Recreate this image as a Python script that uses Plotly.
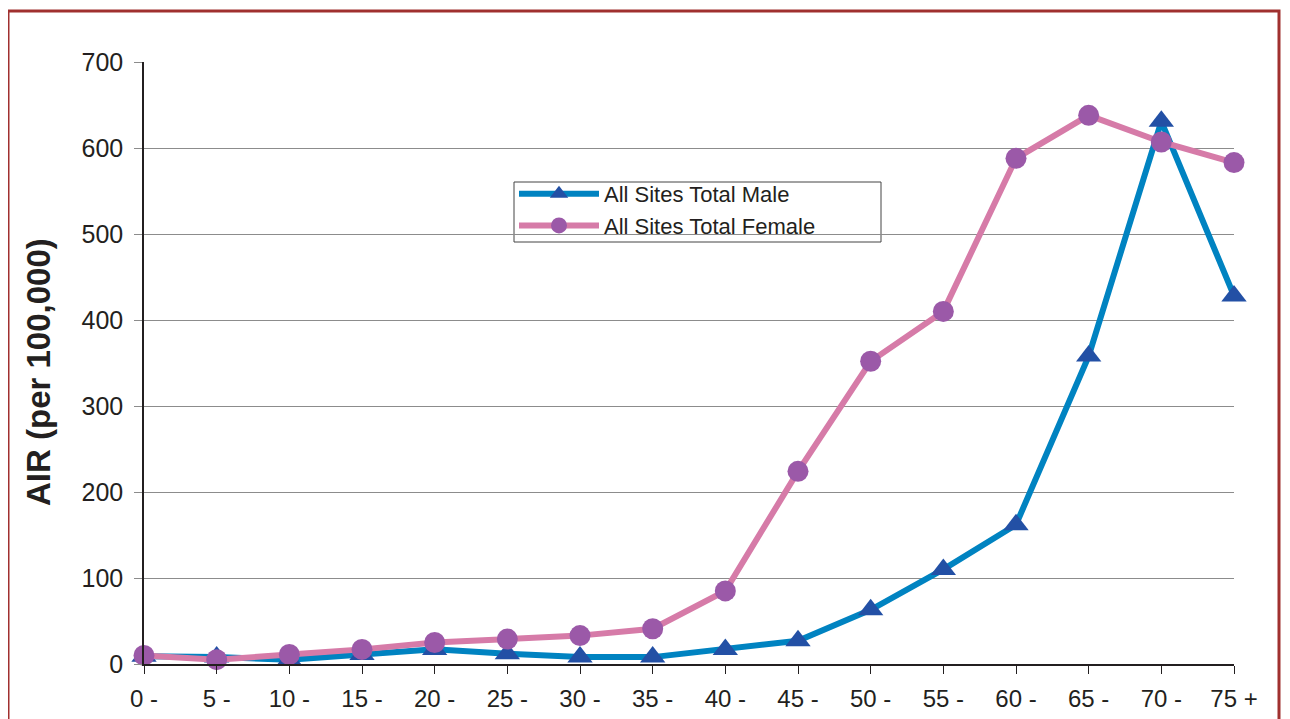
import plotly.graph_objects as go

categories = ["0 -", "5 -", "10 -", "15 -", "20 -", "25 -", "30 -", "35 -",
              "40 -", "45 -", "50 -", "55 -", "60 -", "65 -", "70 -", "75 +"]
male = [9, 8, 5, 11, 17, 12, 8, 8, 17, 27, 63, 110, 162, 358, 631, 428]
female = [10, 5, 11, 17, 25, 29, 33, 41, 85, 224, 352, 410, 588, 638, 607, 583]
y_ticks = [0, 100, 200, 300, 400, 500, 600, 700]

xs = list(range(len(categories)))

# target pixel layout on the page (page has an 8px body margin)
OFF = 8
L, R, T, B = 144, 1234, 62, 664
W, H = 1290 - OFF, 719 - OFF
pw, ph = R - L, B - T


def px(x):
    return (x - L) / pw


def py(y):
    return (B - y) / ph


fig = go.Figure()
fig.add_trace(go.Scatter(
    x=xs, y=male, name="All Sites Total Male", mode="lines+markers",
    line=dict(color="#0083C1", width=6),
    marker=dict(symbol="triangle-up", size=22, color="#2350A5"),
    cliponaxis=False))
fig.add_trace(go.Scatter(
    x=xs, y=female, name="All Sites Total Female", mode="lines+markers",
    line=dict(color="#D67BA8", width=6),
    marker=dict(symbol="circle", size=21, color="#9B59A8"),
    cliponaxis=False))

fig.update_layout(
    width=W, height=H,
    margin=dict(l=L - OFF, r=W - (R - OFF), t=T - OFF, b=H - (B - OFF), autoexpand=False),
    paper_bgcolor="white", plot_bgcolor="white",
    font=dict(family="Liberation Sans, Arial, sans-serif", color="#231F20"),
    showlegend=True,
    legend=dict(x=px(514), y=py(173), xanchor="left", yanchor="top",
                borderwidth=0, bgcolor="rgba(0,0,0,0)",
                font=dict(size=22, family="Liberation Sans, Arial"),
                itemwidth=80, tracegroupgap=0),
    xaxis=dict(range=[0, 15], tickmode="array", tickvals=xs, ticktext=categories,
               showgrid=False, zeroline=False, showline=True, linecolor="#231F20",
               linewidth=1.5, ticks="outside", ticklen=8, tickcolor="#231F20",
               tickfont=dict(size=24, family="Liberation Sans, Arial"),
               ticklabelstandoff=4, fixedrange=True),
    yaxis=dict(range=[0, 700], tickmode="array", tickvals=y_ticks,
               showgrid=True, gridcolor="#8C8C8C", gridwidth=1.2, zeroline=False,
               showline=True, linecolor="#231F20", linewidth=1.5,
               ticks="outside", ticklen=8, tickcolor="#8C8C8C",
               tickfont=dict(size=25, family="Liberation Sans, Arial"),
               ticklabelstandoff=6, fixedrange=True),
)

# y-axis title
fig.add_annotation(text="<b>AIR (per 100,000)</b>", textangle=-90,
                   xref="paper", yref="paper", x=px(39), y=py(372),
                   xanchor="center", yanchor="middle", showarrow=False,
                   font=dict(size=33, color="#231F20"))

# legend box
fig.add_shape(type="rect", xref="paper", yref="paper",
              x0=px(514), x1=px(881), y0=py(242), y1=py(182),
              line=dict(color="#444444", width=1), fillcolor="white", layer="below")

# outer border frame
fig.add_shape(type="rect", xref="paper", yref="paper",
              x0=px(8), x1=px(1279), y0=py(740), y1=py(11),
              line=dict(color="#A0302F", width=3), layer="below")

fig.write_html("out.html")
